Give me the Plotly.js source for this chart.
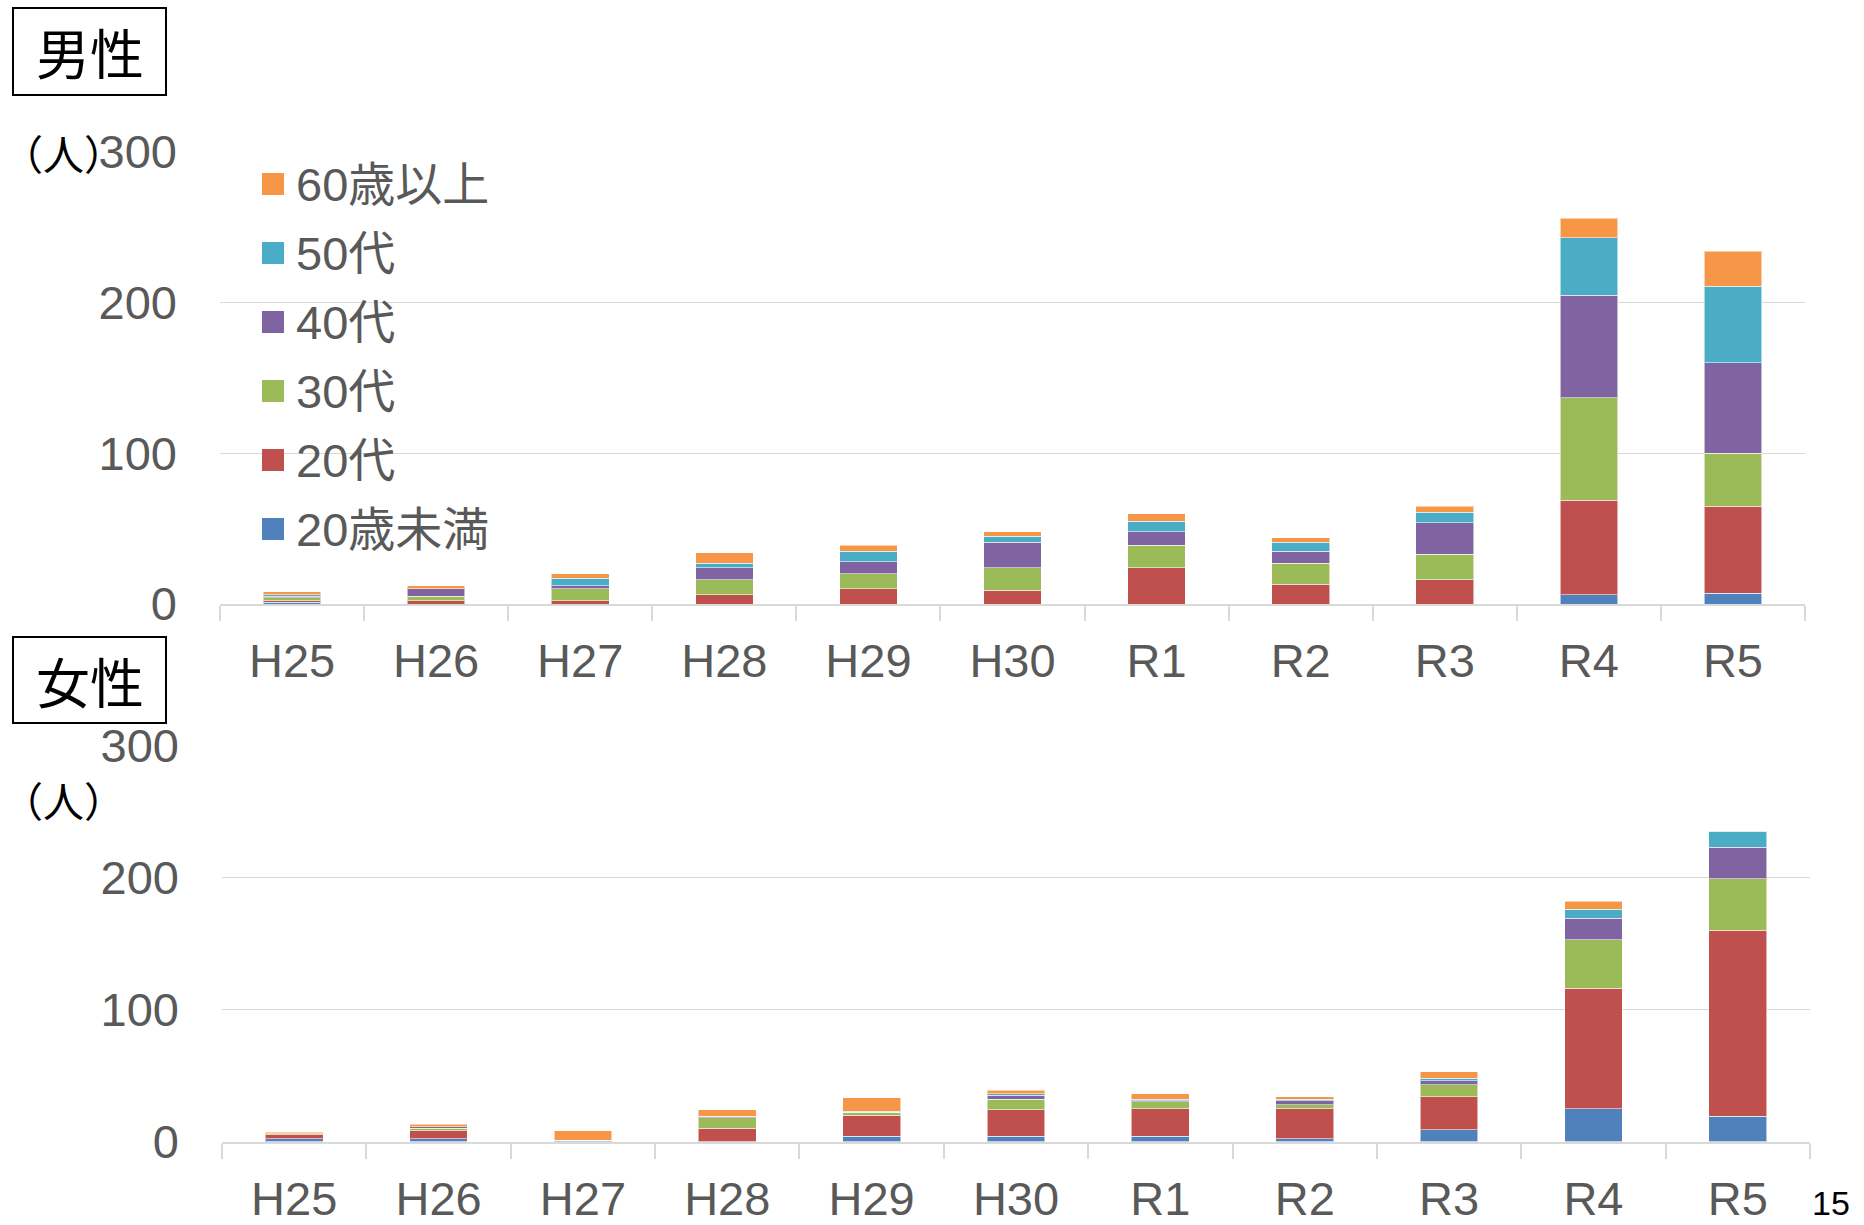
<!DOCTYPE html>
<html>
<head>
<meta charset="utf-8">
<script src="https://cdn.plot.ly/plotly-3.0.1.min.js"></script>
<style>
html,body{margin:0;padding:0;background:#fff;}
#chart{width:1864px;height:1225px;}
</style>
</head>
<body>
<div id="chart"></div>
<script>
// ---- data ----
const categories = ['H25','H26','H27','H28','H29','H30','R1','R2','R3','R4','R5'];
const seriesNames = ['20歳未満','20代','30代','40代','50代','60歳以上'];

// 男性
const maleUnder20 = [1,0,0,0,0,0,0,0,0,6,7];
const male20s     = [1,2,2,6,10,9,24,13,16,63,58];
const male30s     = [2,3,8,10,10,15,15,14,17,68,35];
const male40s     = [1,5,2,8,8,17,9,8,21,68,60];
const male50s     = [1,0,5,3,7,4,7,6,7,38,51];
const male60plus  = [2,2,3,7,4,3,5,3,4,13,23];

// 女性
const femaleUnder20 = [2,2,1,0,4,4,4,2,9,25,19];
const female20s     = [3,6,0,10,16,20,21,23,25,91,141];
const female30s     = [1,2,0,8,2,8,5,3,9,37,39];
const female40s     = [0,1,0,1,0,3,1,3,3,16,24];
const female50s     = [0,0,0,0,1,1,1,1,2,7,12];
const female60plus  = [1,2,7,5,10,3,4,2,5,6,0];

const yTicks = [0,100,200,300];
const panelTitles = ['男性','女性'];
const unitLabel = '（人）';
const pageNumber = '15';

// ---- styles ----
const seriesColors = ['#4F81BD','#C0504D','#9BBB59','#8064A2','#4BACC6','#F79646'];
const W = 1864, H = 1225;
const px = v => v / W;
const py = v => 1 - v / H;
const FONT = 'Liberation Sans, Arial, "Noto Sans CJK JP", sans-serif';
const CJK = '"Noto Sans CJK JP", sans-serif';
const GRAY = '#595959';
const GRID = '#d9d9d9';

const maleSeries = [maleUnder20, male20s, male30s, male40s, male50s, male60plus];
const femaleSeries = [femaleUnder20, female20s, female30s, female40s, female50s, female60plus];

const traces = [];
function addPanel(series, xa, ya) {
  series.forEach((vals, i) => {
    traces.push({
      type: 'bar',
      name: seriesNames[i],
      x: categories,
      y: vals,
      xaxis: xa,
      yaxis: ya,
      marker: {color: seriesColors[i], line: {color: 'rgba(255,255,255,0.55)', width: 1}},
      showlegend: false,
      hoverinfo: 'x+y+name'
    });
  });
}
addPanel(maleSeries, 'x', 'y');
addPanel(femaleSeries, 'x2', 'y2');

function xAxis(domain, anchor) {
  return {
    domain: domain, anchor: anchor, type: 'category',
    showline: true, linecolor: GRID, linewidth: 2,
    ticks: 'outside', tickson: 'boundaries', ticklen: 15, tickcolor: GRID, tickwidth: 2,
    tickfont: {family: FONT, size: 47, color: GRAY},
    ticklabelstandoff: 15,
    showgrid: false, zeroline: false, fixedrange: true
  };
}
function yAxis(domain, anchor) {
  return {
    domain: domain, anchor: anchor, range: [0, 300],
    tickmode: 'array', tickvals: yTicks, ticktext: yTicks.map(String),
    showgrid: true, gridcolor: GRID, gridwidth: 1.5,
    zeroline: false, showline: false, ticks: '',
    tickfont: {family: FONT, size: 47, color: GRAY},
    ticklabelstandoff: 42, fixedrange: true
  };
}

const shapes = [];
const annotations = [];

// panel title boxes
[[8, 95], [637, 723]].forEach((b, i) => {
  shapes.push({type: 'rect', xref: 'paper', yref: 'paper',
    x0: px(13), x1: px(166), y0: py(b[1]), y1: py(b[0]),
    line: {color: '#000', width: 2}, fillcolor: 'rgba(0,0,0,0)'});
  annotations.push({xref: 'paper', yref: 'paper', x: px(89.5), y: py((b[0] + b[1]) / 2),
    xanchor: 'center', yanchor: 'middle', showarrow: false, text: panelTitles[i],
    font: {family: CJK, size: 54, color: '#000'}});
});

// unit labels
[152, 799].forEach(yc => {
  annotations.push({xref: 'paper', yref: 'paper', x: 0, y: py(yc),
    xanchor: 'left', yanchor: 'middle', showarrow: false, text: unitLabel,
    font: {family: CJK, size: 41, color: '#000'}});
});

// custom legend (top panel), top to bottom: reversed series order
const legendRows = [184, 253, 322, 391, 460, 529];
for (let k = 0; k < seriesNames.length; k++) {
  const i = seriesNames.length - 1 - k;
  const yc = legendRows[k];
  shapes.push({type: 'rect', xref: 'paper', yref: 'paper',
    x0: px(262), x1: px(284), y0: py(yc + 11), y1: py(yc - 11),
    line: {width: 0}, fillcolor: seriesColors[i]});
  annotations.push({xref: 'paper', yref: 'paper', x: px(294), y: py(yc),
    xanchor: 'left', yanchor: 'middle', showarrow: false, text: seriesNames[i],
    font: {family: FONT, size: 47, color: GRAY}});
}

// page number
annotations.push({xref: 'paper', yref: 'paper', x: px(1852), y: py(1203),
  xanchor: 'right', yanchor: 'middle', showarrow: false, text: pageNumber,
  font: {family: FONT, size: 34, color: '#000'}});

const layout = {
  width: W, height: H,
  margin: {l: 0, r: 0, t: 0, b: 0},
  paper_bgcolor: '#fff', plot_bgcolor: '#fff',
  barmode: 'stack', bargap: 0.6,
  showlegend: false,
  xaxis: xAxis([px(220), px(1805)], 'y'),
  yaxis: yAxis([py(604), py(152)], 'x'),
  xaxis2: xAxis([px(222), px(1810)], 'y2'),
  yaxis2: yAxis([py(1141.5), py(745.5)], 'x2'),
  shapes: shapes,
  annotations: annotations
};

Plotly.newPlot('chart', traces, layout, {displayModeBar: false, staticPlot: true});
</script>
</body>
</html>
